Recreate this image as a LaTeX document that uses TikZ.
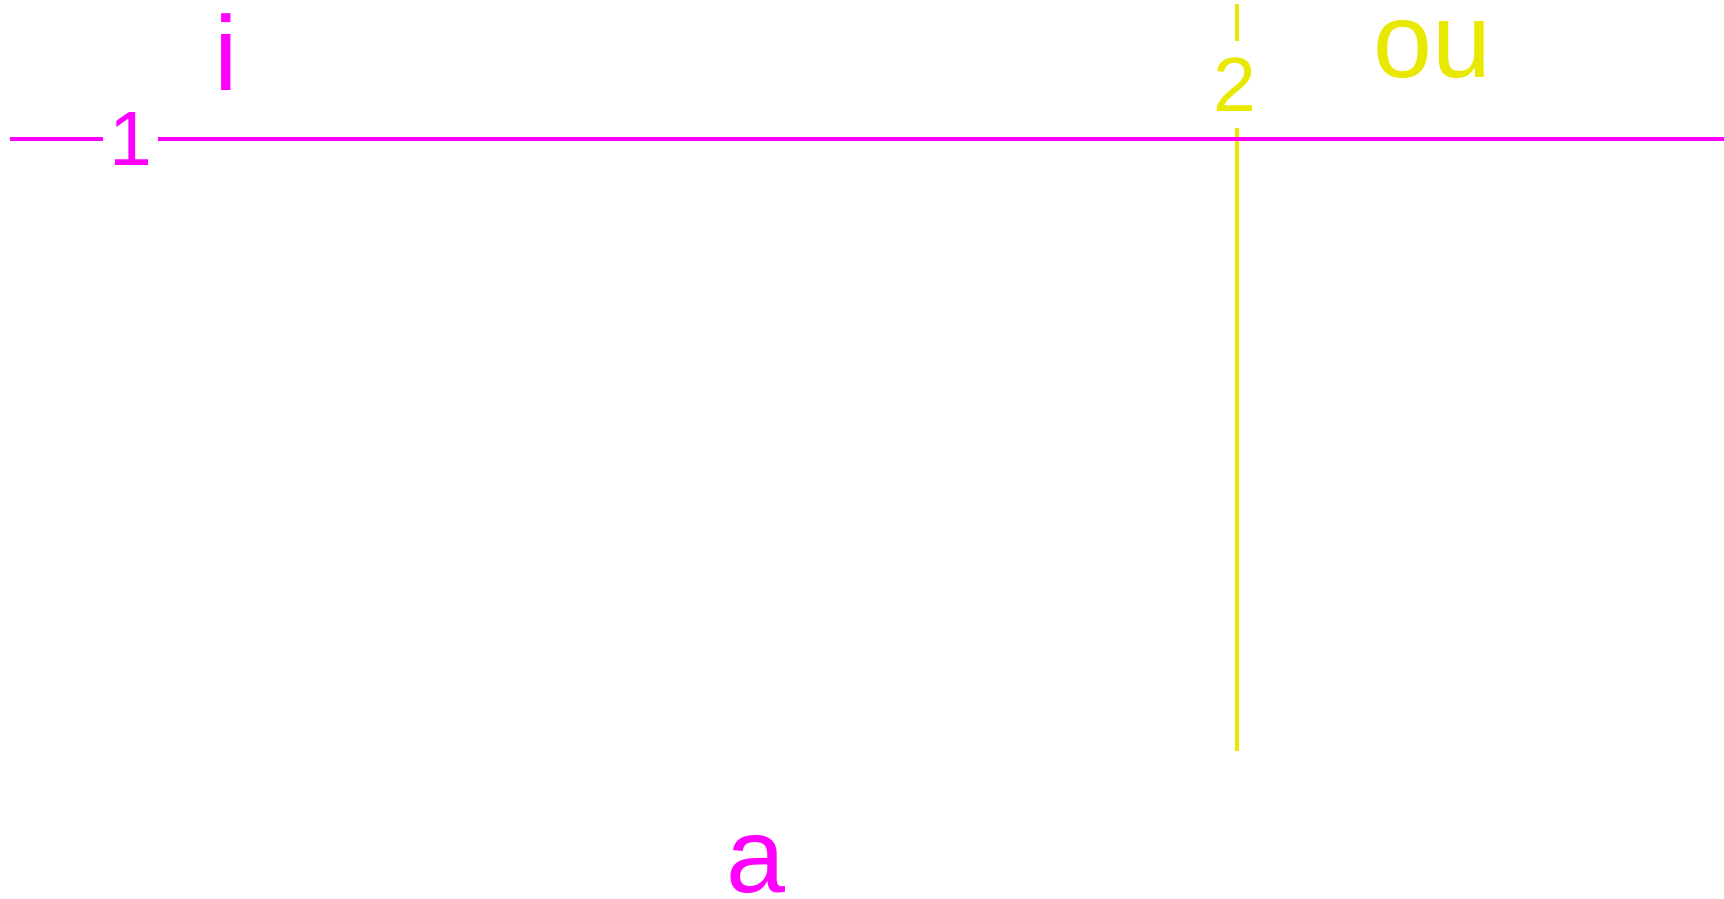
\documentclass[tikz,border=0pt]{standalone}
\usepackage{fontspec}
\setmainfont{Liberation Sans}
\definecolor{mag}{RGB}{255,0,255}
\definecolor{yel}{RGB}{232,232,0}
\tikzset{
  magline/.style={draw=mag,line width=4pt},
  yelline/.style={draw=yel,line width=4pt},
  biglabel/.style={inner sep=0pt,font=\fontsize{106}{120}\selectfont},
  smalllabel/.style={inner sep=0pt,font=\fontsize{77}{90}\selectfont},
}
\begin{document}
\begin{tikzpicture}[x=1pt,y=-1pt]
\useasboundingbox[fill=white] (0,0) rectangle (1724,898);
% yellow vertical line with label 2
\coordinate (ytop) at (1237,4);
\coordinate (ybot) at (1237,751);
\node[smalllabel,text=yel,minimum height=87pt,minimum width=34pt] (n2) at (1235,84.5) {2};
\draw[yelline] (ytop) -- (n2.north -| ytop);
\draw[yelline] (n2.south -| ybot) -- (ybot);
% magenta horizontal line with label 1
\coordinate (mleft) at (10,139);
\coordinate (mright) at (1724,139);
\node[smalllabel,text=mag,minimum width=55pt,minimum height=55pt] (n1) at (130.5,139) {1};
\draw[magline] (mleft) -- (n1.west |- mleft);
\draw[magline] (n1.east |- mright) -- (mright);
% labels
\node[biglabel,text=mag,anchor=base,text height=0.72em,text depth=0pt] (li) at (226.5,90) {i};
\node[biglabel,text=yel,anchor=base west,text height=0.54em,text depth=0pt] (lou) at (1373,77) {ou};
\node[biglabel,text=mag,anchor=base,text height=0.54em,text depth=0pt] (la) at (756,892) {a};
\end{tikzpicture}
\end{document}
